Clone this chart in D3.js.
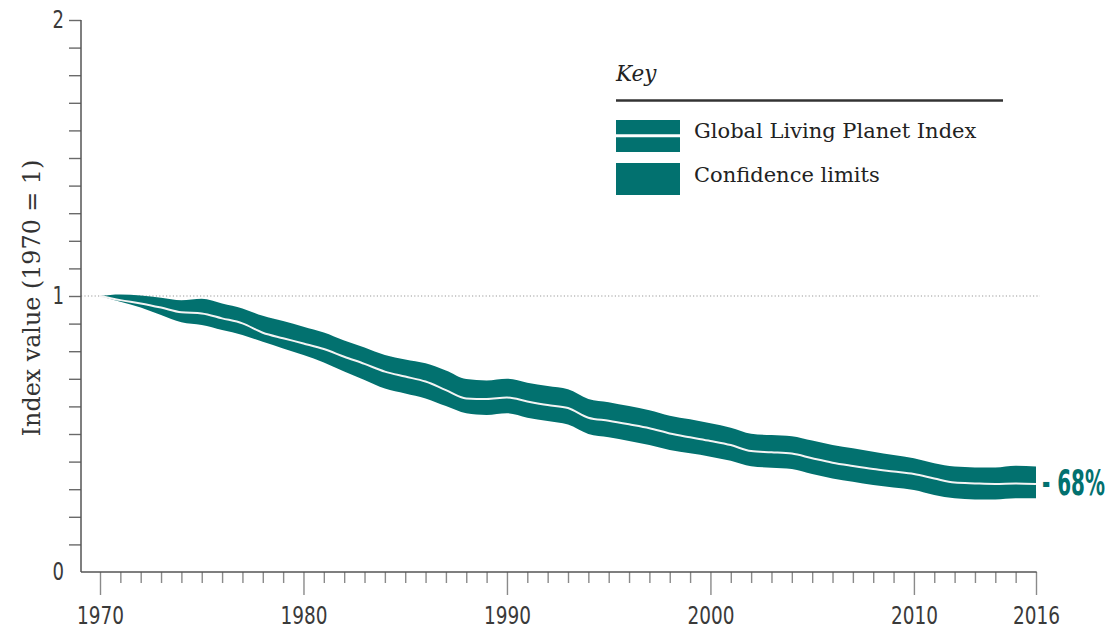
<!DOCTYPE html>
<html>
<head>
<meta charset="utf-8">
<script src="https://cdn.jsdelivr.net/npm/d3@7"></script>
<style>
  html, body { margin: 0; padding: 0; background: #fff; }
  svg { display: block; }
</style>
</head>
<body>
<svg id="chart" width="1114" height="633"></svg>
<script>
const years = d3.range(1970, 2017);
const indexValues = [
  1.000, 0.985, 0.973, 0.958, 0.941, 0.937, 0.919, 0.901, 0.867, 0.847,
  0.828, 0.808, 0.780, 0.754, 0.726, 0.708, 0.690, 0.659, 0.629, 0.627,
  0.632, 0.618, 0.605, 0.594, 0.559, 0.548, 0.535, 0.521, 0.502, 0.488,
  0.475, 0.460, 0.438, 0.434, 0.429, 0.412, 0.396, 0.384, 0.373, 0.364,
  0.355, 0.339, 0.324, 0.321, 0.319, 0.321, 0.319
];
const upperValues = [
  1.000, 1.005, 1.002, 0.994, 0.985, 0.990, 0.973, 0.955, 0.928, 0.909,
  0.889, 0.868, 0.839, 0.813, 0.786, 0.770, 0.756, 0.730, 0.699, 0.694,
  0.700, 0.686, 0.674, 0.662, 0.627, 0.615, 0.601, 0.586, 0.566, 0.553,
  0.539, 0.523, 0.501, 0.496, 0.492, 0.476, 0.460, 0.448, 0.436, 0.424,
  0.412, 0.394, 0.382, 0.379, 0.379, 0.385, 0.382
];
const lowerValues = [
  1.000, 0.979, 0.958, 0.931, 0.905, 0.895, 0.877, 0.859, 0.834, 0.810,
  0.786, 0.759, 0.726, 0.696, 0.665, 0.647, 0.629, 0.601, 0.575, 0.569,
  0.575, 0.559, 0.547, 0.534, 0.500, 0.488, 0.475, 0.460, 0.442, 0.430,
  0.418, 0.403, 0.383, 0.378, 0.373, 0.355, 0.339, 0.327, 0.315, 0.306,
  0.297, 0.279, 0.267, 0.263, 0.263, 0.267, 0.267
];
const xTickLabels = [1970, 1980, 1990, 2000, 2010, 2016];
const yTickLabels = [0, 1, 2];
const yTitle = "Index value (1970 = 1)";
const legendTitle = "Key";
const legendItems = ["Global Living Planet Index", "Confidence limits"];
const endLabel = "- 68%";

const TEAL = "#02716f";
const condensed = "'Liberation Sans Narrow', 'Arial Narrow', 'DejaVu Sans Condensed', sans-serif";
const serif = "'DejaVu Serif', 'Liberation Serif', serif";

const svg = d3.select("#chart");
const x = d3.scaleLinear().domain([1970, 2016]).range([100, 1036]);
const y = d3.scaleLinear().domain([0, 2]).range([572, 20]);

const data = years.map((yr, i) => ({ yr, v: indexValues[i], hi: upperValues[i], lo: lowerValues[i] }));

// reference dotted line at 1
svg.append("line")
  .attr("x1", 81).attr("x2", 1040)
  .attr("y1", y(1)).attr("y2", y(1))
  .attr("stroke", "#9a9a9a").attr("stroke-width", 1.2)
  .attr("stroke-dasharray", "1.2,2.2");

// Y axis
const yAxis = d3.axisLeft(y)
  .tickValues(d3.range(1, 21).map(d => d / 10))
  .tickSize(12)
  .tickFormat("");
const gy = svg.append("g").attr("transform", "translate(81,0)").call(yAxis);
gy.select(".domain").remove();
gy.selectAll(".tick line").attr("stroke", "#6a6a6a").attr("stroke-width", 1.4);
svg.append("line").attr("x1", 81).attr("x2", 81).attr("y1", y(2)).attr("y2", y(0))
  .attr("stroke", "#555").attr("stroke-width", 1.5);
svg.append("g").selectAll("text").data(yTickLabels).join("text")
  .attr("x", 64).attr("y", d => y(d) + 8)
  .attr("text-anchor", "end")
  .attr("font-family", condensed).attr("font-size", 25).attr("fill", "#3a3a3a")
  .attr("textLength", 11.5).attr("lengthAdjust", "spacingAndGlyphs")
  .text(d => d);

// X axis
const minorYears = years.filter(d => !xTickLabels.includes(d));
const xMinor = d3.axisBottom(x).tickValues(minorYears).tickSize(11).tickFormat("");
const gxm = svg.append("g").attr("transform", "translate(0,572)").call(xMinor);
gxm.select(".domain").remove();
gxm.selectAll(".tick line").attr("stroke", "#8a8a8a").attr("stroke-width", 1.4);
const xMajor = d3.axisBottom(x).tickValues(xTickLabels).tickSize(23).tickPadding(7).tickFormat(d3.format("d"));
const gx = svg.append("g").attr("transform", "translate(0,572)").call(xMajor);
gx.select(".domain").remove();
gx.selectAll(".tick line").attr("stroke", "#8a8a8a").attr("stroke-width", 1.4);
gx.selectAll(".tick text")
  .attr("font-family", condensed).attr("font-size", 25).attr("fill", "#3a3a3a")
  .attr("textLength", 47).attr("lengthAdjust", "spacingAndGlyphs")
  .attr("dy", 0).attr("y", 52);
svg.append("line").attr("x1", 81).attr("x2", x(2016) + 0.7).attr("y1", 572).attr("y2", 572)
  .attr("stroke", "#555").attr("stroke-width", 1.5);

// Y title
svg.append("text")
  .attr("transform", `translate(40,${y(1) + 2}) rotate(-90)`)
  .attr("text-anchor", "middle")
  .attr("font-family", serif).attr("font-size", 23.8).attr("fill", "#333")
  .text(yTitle);

// Band
const area = d3.area()
  .x(d => x(d.yr)).y0(d => y(d.lo)).y1(d => y(d.hi))
  .curve(d3.curveMonotoneX);
svg.append("path").datum(data).attr("d", area).attr("fill", TEAL);

const line = d3.line().x(d => x(d.yr)).y(d => y(d.v)).curve(d3.curveMonotoneX);
svg.append("path").datum(data).attr("d", line)
  .attr("fill", "none").attr("stroke", "#f4f4f4").attr("stroke-width", 2);

// End label (condensed via horizontal scale so its box matches what is drawn)
const endG = svg.append("g");
const endT = endG.append("text")
  .attr("x", 0).attr("y", 0)
  .attr("font-family", condensed).attr("font-size", 36).attr("font-weight", "bold")
  .attr("fill", TEAL)
  .text(endLabel);
const natural = endT.node().getComputedTextLength() || 90;
const sx = 63 / natural;
endG.attr("transform", `translate(1042,495) scale(${sx},1)`);

// Legend
const lg = svg.append("g");
lg.append("text").attr("x", 616).attr("y", 81)
  .attr("font-family", serif).attr("font-style", "italic").attr("font-size", 21.5).attr("fill", "#222")
  .text(legendTitle);
lg.append("line").attr("x1", 616).attr("x2", 1003).attr("y1", 100.5).attr("y2", 100.5)
  .attr("stroke", "#333").attr("stroke-width", 2.5);
lg.append("rect").attr("x", 616).attr("y", 120).attr("width", 64).attr("height", 32).attr("fill", TEAL);
lg.append("line").attr("x1", 616).attr("x2", 680).attr("y1", 135.8).attr("y2", 135.8)
  .attr("stroke", "#fff").attr("stroke-width", 3);
lg.append("rect").attr("x", 616).attr("y", 163).attr("width", 64).attr("height", 32).attr("fill", TEAL);
lg.selectAll("text.item").data(legendItems).join("text").attr("class", "item")
  .attr("x", 694).attr("y", (d, i) => 138 + i * 44)
  .attr("font-family", serif).attr("font-size", 21).attr("fill", "#222")
  .text(d => d);
</script>
</body>
</html>
